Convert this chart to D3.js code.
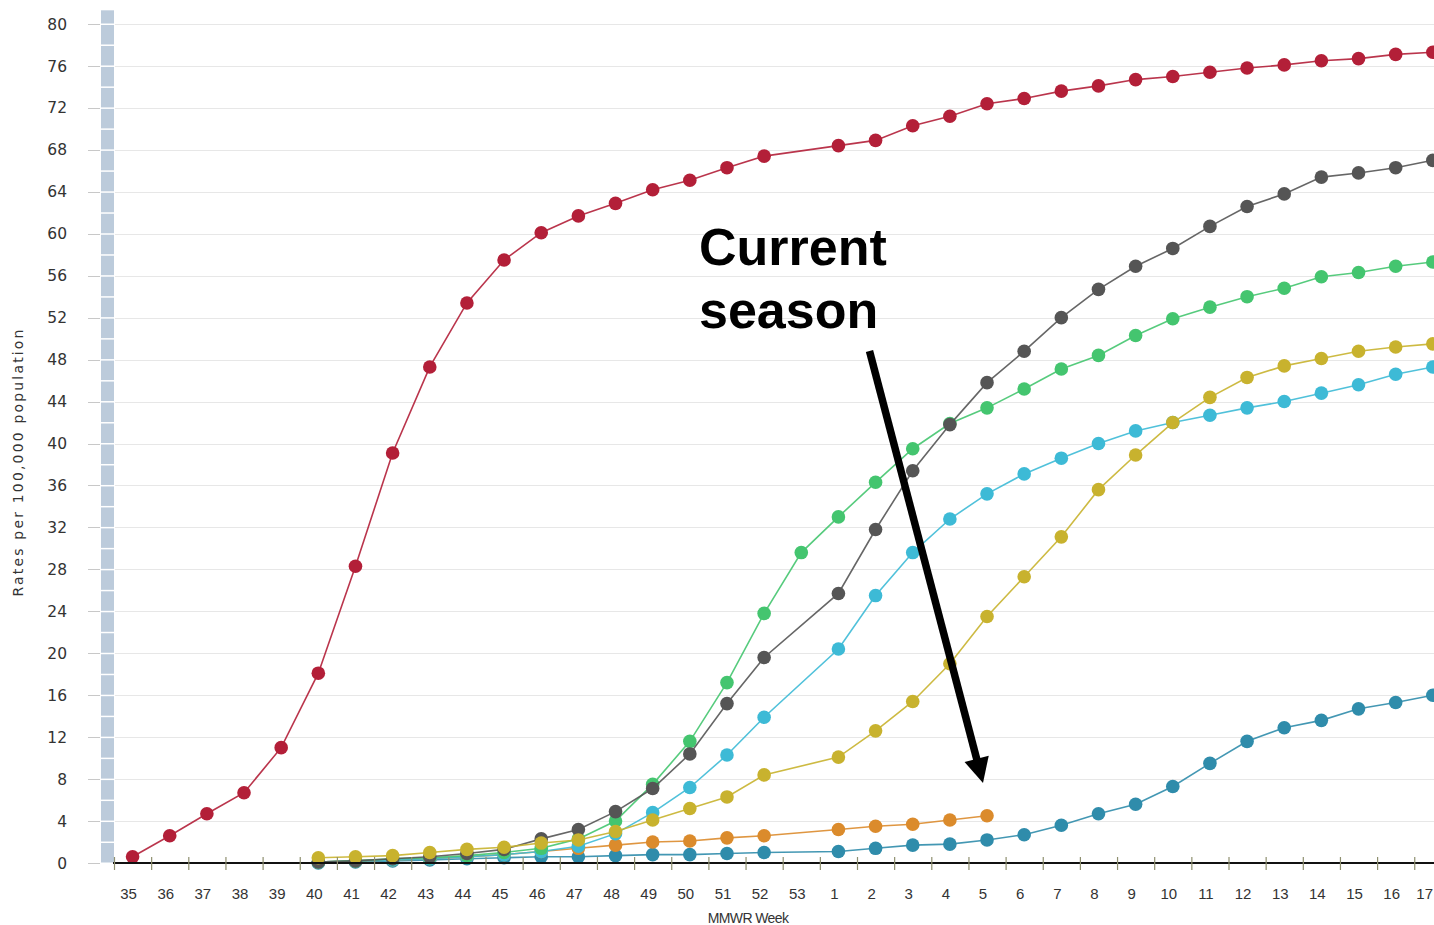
<!DOCTYPE html>
<html>
<head>
<meta charset="utf-8">
<script src="https://cdn.jsdelivr.net/npm/d3@7"></script>
<style>
  html, body { margin: 0; padding: 0; background: #fff; overflow: hidden; }
  svg { display: block; }
</style>
</head>
<body>
<svg id="chart" width="1434" height="925"></svg>
<script>
// ---- Data ----
const weeks = ["35","36","37","38","39","40","41","42","43","44","45","46","47","48","49","50","51","52","53",
  "1","2","3","4","5","6","7","8","9","10","11","12","13","14","15","16","17"];
const yTicks = [0,4,8,12,16,20,24,28,32,36,40,44,48,52,56,60,64,68,72,76,80];

const seasonRed = [0.6,2.6,4.7,6.7,11.0,18.1,28.3,39.1,47.3,53.4,57.5,60.1,61.7,62.9,64.2,65.1,66.3,67.4,null,
  68.4,68.9,70.3,71.2,72.4,72.9,73.6,74.1,74.7,75.0,75.4,75.8,76.1,76.5,76.7,77.1,77.3];
const seasonGray = [null,null,null,null,null,0.1,0.2,0.4,0.6,0.9,1.3,2.3,3.2,4.9,7.1,10.4,15.2,19.6,null,
  25.7,31.8,37.4,41.8,45.8,48.8,52.0,54.7,56.9,58.6,60.7,62.6,63.8,65.4,65.8,66.3,67.0];
const seasonGreen = [null,null,null,null,null,0.1,0.2,0.4,0.5,0.7,1.0,1.4,2.3,4.0,7.5,11.6,17.2,23.8,29.6,
  33.0,36.3,39.5,41.9,43.4,45.2,47.1,48.4,50.3,51.9,53.0,54.0,54.8,55.9,56.3,56.9,57.3];
const seasonCyan = [null,null,null,null,null,0.1,0.2,0.3,0.4,0.6,0.8,1.1,1.6,2.8,4.8,7.2,10.3,13.9,null,
  20.4,25.5,29.6,32.8,35.2,37.1,38.6,40.0,41.2,42.0,42.7,43.4,44.0,44.8,45.6,46.6,47.3];
const seasonYellow = [null,null,null,null,null,0.5,0.6,0.7,1.0,1.3,1.5,1.9,2.2,3.0,4.1,5.2,6.3,8.4,null,
  10.1,12.6,15.4,19.0,23.5,27.3,31.1,35.6,38.9,42.0,44.4,46.3,47.4,48.1,48.8,49.2,49.5];
const seasonTeal = [null,null,null,null,null,0.0,0.1,0.2,0.3,0.4,0.5,0.6,0.6,0.7,0.8,0.8,0.9,1.0,null,
  1.1,1.4,1.7,1.8,2.2,2.7,3.6,4.7,5.6,7.3,9.5,11.6,12.9,13.6,14.7,15.3,16.0];
const seasonCurrent = [null,null,null,null,null,0.1,0.2,0.3,0.4,0.6,0.8,1.1,1.4,1.7,2.0,2.1,2.4,2.6,null,
  3.2,3.5,3.7,4.1,4.5,null,null,null,null,null,null,null,null,null,null,null,null];

const seriesList = [
  {name: "red", values: seasonRed, color: "#b31f38"},
  {name: "teal", values: seasonTeal, color: "#2f8cab"},
  {name: "current", values: seasonCurrent, color: "#db8b2c"},
  {name: "cyan", values: seasonCyan, color: "#3dbad6"},
  {name: "green", values: seasonGreen, color: "#44c56f"},
  {name: "gray", values: seasonGray, color: "#555555"},
  {name: "yellow", values: seasonYellow, color: "#c8b22e"}
];

// ---- Layout ----
const svg = d3.select("#chart");
const plotLeft = 114, bandW = 37.15;
const x = d3.scaleBand().domain(weeks).range([plotLeft, plotLeft + bandW * weeks.length]).padding(0);
const y = d3.scaleLinear().domain([0, 80]).range([863, 24]);
const cx = w => x(w) + x.bandwidth() / 2;

// grid lines
svg.append("g").selectAll("line").data(yTicks).join("line")
  .attr("x1", plotLeft + 1).attr("x2", 1434)
  .attr("y1", d => Math.round(y(d)) + 0.5).attr("y2", d => Math.round(y(d)) + 0.5)
  .attr("stroke", "#e7e7e7").attr("stroke-width", 1.2);

// left decorative bar (segments every 2 units)
const segs = d3.range(0, 81.4, 2);
svg.append("g").selectAll("rect").data(segs).join("rect")
  .attr("x", 101).attr("width", 13)
  .attr("y", d => y(Math.min(d + 2, 81.4)) + 1)
  .attr("height", d => Math.max(0, y(d) - y(Math.min(d + 2, 81.4)) - 1.5))
  .attr("fill", "#bccbdb");

// y axis ticks and labels
const yAxis = svg.append("g");
yAxis.selectAll("line").data(yTicks).join("line")
  .attr("x1", 88).attr("x2", 100)
  .attr("y1", d => Math.round(y(d)) + 0.5).attr("y2", d => Math.round(y(d)) + 0.5)
  .attr("stroke", "#c8c8c8").attr("stroke-width", 1);
yAxis.selectAll("text").data(yTicks).join("text")
  .attr("x", 67).attr("y", d => y(d)).attr("dy", "0.36em")
  .attr("text-anchor", "end")
  .attr("font-family", "DejaVu Sans, Verdana, sans-serif").attr("font-size", 15.5)
  .attr("fill", "#333").text(d => d);

svg.append("text")
  .attr("transform", "translate(23,463) rotate(-90)")
  .attr("text-anchor", "middle")
  .attr("font-family", "DejaVu Sans, Verdana, sans-serif").attr("font-size", 14)
  .attr("textLength", 267).attr("lengthAdjust", "spacing")
  .attr("fill", "#333").text("Rates per 100,000 population");

// lines and points
const line = d3.line().defined(d => d.v != null).x(d => cx(d.w)).y(d => y(d.v));
seriesList.forEach(s => {
  const pts = weeks.map((w, i) => ({w, v: s.values[i]})).filter(d => d.v != null);
  const g = svg.append("g");
  g.append("path").datum(pts).attr("d", line)
    .attr("fill", "none").attr("stroke", s.color).attr("stroke-width", 1.6).attr("opacity", 0.9);
  g.selectAll("circle").data(pts).join("circle")
    .attr("cx", d => cx(d.w)).attr("cy", d => y(d.v)).attr("r", 6.8)
    .attr("fill", s.color);
});

// x axis
const xAxisG = svg.append("g");
xAxisG.append("line").attr("x1", plotLeft - 1).attr("x2", 1434)
  .attr("y1", 863).attr("y2", 863).attr("stroke", "#111").attr("stroke-width", 2);
xAxisG.selectAll("line.tick").data(weeks).join("line").attr("class", "tick")
  .attr("x1", d => x(d) + 0.5).attr("x2", d => x(d) + 0.5)
  .attr("y1", 857).attr("y2", 870).attr("stroke", "#8f9070").attr("stroke-width", 1.2);
const lastWeek = weeks[weeks.length - 1];
xAxisG.selectAll("text").data(weeks).join("text")
  .attr("x", d => d === lastWeek ? 1433 : cx(d) - 4).attr("y", 899)
  .attr("text-anchor", d => d === lastWeek ? "end" : "middle")
  .attr("font-family", "Liberation Sans Narrow, Liberation Sans, Arial, sans-serif").attr("font-size", 15)
  .attr("fill", "#333").text(d => d);

svg.append("text").attr("x", 748).attr("y", 923).attr("text-anchor", "middle")
  .attr("font-family", "Liberation Sans, Arial, sans-serif").attr("font-size", 14)
  .attr("letter-spacing", -0.6)
  .attr("fill", "#333").text("MMWR Week");

// annotation
const ann = svg.append("g");
ann.append("text").attr("x", 699).attr("y", 265)
  .attr("font-family", "Liberation Sans, Arial, sans-serif").attr("font-weight", "bold").attr("font-size", 52)
  .attr("fill", "#000").text("Current");
ann.append("text").attr("x", 699).attr("y", 328)
  .attr("font-family", "Liberation Sans, Arial, sans-serif").attr("font-weight", "bold").attr("font-size", 52)
  .attr("fill", "#000").text("season");

const tip = [983, 783], start = [869.5, 351];
const dx = tip[0] - start[0], dy = tip[1] - start[1];
const len = Math.hypot(dx, dy), ux = dx / len, uy = dy / len;
const headLen = 25, headHalf = 12.5;
const base = [tip[0] - ux * headLen, tip[1] - uy * headLen];
ann.append("line").attr("x1", start[0]).attr("y1", start[1])
  .attr("x2", base[0] + ux * 2).attr("y2", base[1] + uy * 2)
  .attr("stroke", "#000").attr("stroke-width", 7.5);
ann.append("polygon").attr("points", [
  tip,
  [base[0] - uy * headHalf, base[1] + ux * headHalf],
  [base[0] + uy * headHalf, base[1] - ux * headHalf]
].map(p => p.join(",")).join(" ")).attr("fill", "#000");
</script>
</body>
</html>
